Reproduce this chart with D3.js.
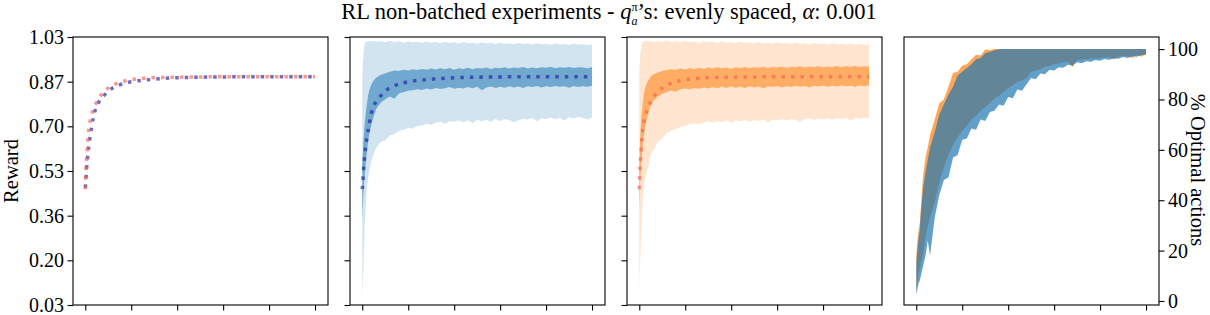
<!DOCTYPE html>
<html>
<head>
<meta charset="utf-8">
<script src="https://cdn.jsdelivr.net/npm/d3@7"></script>
<style>
  body { margin: 0; background: #fff; }
  svg { display: block; }
  text { font-family: "Liberation Serif", "DejaVu Serif", serif; fill: #000; }
</style>
</head>
<body>
<svg id="chart"></svg>
<script>
// episodes for the smooth mean curves
const meanSteps = [0, 30, 60, 100, 150, 200, 275, 350, 465, 600, 800, 1000, 1400, 1800, 2200, 2700, 3200, 4000, 5000, 6000, 8000, 10000];
const blueMean = [0.462, 0.500, 0.542, 0.580, 0.620, 0.652, 0.692, 0.729, 0.766, 0.789, 0.810, 0.828, 0.848, 0.859, 0.866, 0.870, 0.874, 0.878, 0.880, 0.881, 0.882, 0.882];
const orangeMean = [0.462, 0.539, 0.580, 0.635, 0.685, 0.712, 0.742, 0.758, 0.782, 0.803, 0.826, 0.840, 0.858, 0.868, 0.873, 0.877, 0.879, 0.880, 0.881, 0.882, 0.882, 0.882];

// episodes for the noisy bands
const bandSteps = [0, 25, 50, 75, 100, 150, 200, 250, 300, 400,
  500, 600, 800, 1000, 1200, 1400, 1600, 1800, 2000, 2200,
  2400, 2600, 2800, 3000, 3200, 3400, 3600, 3800, 4000, 4200,
  4400, 4600, 4800, 5000, 5200, 5400, 5600, 5800, 6000, 6200,
  6400, 6600, 6800, 7000, 7200, 7400, 7600, 7800, 8000, 8200,
  8400, 8600, 8800, 9000, 9200, 9400, 9600, 9800, 10000];

const blueOuterLo = [0.06, 0.12, 0.16, 0.25, 0.31, 0.40, 0.47, 0.50, 0.53, 0.57,
  0.595, 0.615, 0.638, 0.645, 0.662, 0.668, 0.680, 0.684, 0.690, 0.688,
  0.698, 0.700, 0.706, 0.703, 0.710, 0.714, 0.706, 0.716, 0.713, 0.718,
  0.712, 0.719, 0.708, 0.721, 0.716, 0.722, 0.714, 0.724, 0.717, 0.723,
  0.720, 0.711, 0.719, 0.725, 0.722, 0.728, 0.716, 0.727, 0.724, 0.730,
  0.723, 0.729, 0.718, 0.731, 0.726, 0.732, 0.728, 0.722, 0.730];
const blueOuterHi = [0.88, 0.93, 0.965, 0.99, 1.000, 1.010, 1.014, 1.012, 1.016, 1.013,
  1.017, 1.012, 1.015, 1.011, 1.016, 1.010, 1.014, 1.009, 1.013, 1.010,
  1.012, 1.008, 1.013, 1.009, 1.011, 1.007, 1.012, 1.008, 1.010, 1.006,
  1.011, 1.007, 1.009, 1.005, 1.010, 1.006, 1.008, 1.004, 1.009, 1.005,
  1.007, 1.003, 1.008, 1.004, 1.006, 1.002, 1.007, 1.003, 1.005, 1.001,
  1.006, 1.002, 1.004, 1.000, 1.005, 1.001, 1.003, 0.999, 1.002];
const blueInnerLo = [0.337, 0.40, 0.44, 0.48, 0.51, 0.56, 0.60, 0.64, 0.665, 0.705,
  0.735, 0.76, 0.785, 0.798, 0.808, 0.800, 0.820, 0.824, 0.829, 0.831,
  0.835, 0.832, 0.838, 0.834, 0.840, 0.836, 0.839, 0.843, 0.837, 0.841,
  0.838, 0.843, 0.839, 0.844, 0.831, 0.842, 0.845, 0.840, 0.844, 0.841,
  0.846, 0.842, 0.845, 0.840, 0.846, 0.843, 0.847, 0.842, 0.846, 0.843,
  0.847, 0.844, 0.846, 0.841, 0.847, 0.843, 0.846, 0.844, 0.848];
const blueInnerHi = [0.56, 0.60, 0.64, 0.67, 0.70, 0.745, 0.78, 0.81, 0.83, 0.855,
  0.868, 0.878, 0.888, 0.895, 0.900, 0.905, 0.903, 0.908, 0.905, 0.910,
  0.907, 0.911, 0.908, 0.912, 0.909, 0.913, 0.910, 0.914, 0.908, 0.913,
  0.911, 0.915, 0.910, 0.914, 0.912, 0.916, 0.911, 0.915, 0.913, 0.917,
  0.912, 0.916, 0.914, 0.918, 0.912, 0.916, 0.913, 0.917, 0.915, 0.919,
  0.913, 0.917, 0.915, 0.918, 0.914, 0.917, 0.916, 0.913, 0.917];

const orangeOuterLo = [0.09, 0.16, 0.22, 0.28, 0.33, 0.43, 0.47, 0.50, 0.52, 0.55,
  0.587, 0.605, 0.637, 0.650, 0.672, 0.680, 0.688, 0.694, 0.700, 0.705,
  0.708, 0.705, 0.711, 0.716, 0.710, 0.717, 0.713, 0.719, 0.709, 0.718,
  0.715, 0.721, 0.714, 0.720, 0.717, 0.723, 0.712, 0.722, 0.719, 0.725,
  0.718, 0.724, 0.721, 0.714, 0.723, 0.727, 0.720, 0.726, 0.722, 0.728,
  0.721, 0.727, 0.724, 0.729, 0.718, 0.728, 0.725, 0.730, 0.727];
const orangeOuterHi = [0.90, 0.94, 0.97, 0.99, 1.000, 1.010, 1.015, 1.012, 1.017, 1.013,
  1.016, 1.011, 1.015, 1.012, 1.017, 1.011, 1.014, 1.010, 1.015, 1.011,
  1.013, 1.009, 1.014, 1.010, 1.012, 1.008, 1.013, 1.009, 1.011, 1.007,
  1.012, 1.008, 1.010, 1.006, 1.011, 1.007, 1.009, 1.005, 1.010, 1.006,
  1.008, 1.004, 1.009, 1.005, 1.007, 1.003, 1.008, 1.004, 1.006, 1.002,
  1.007, 1.003, 1.005, 1.001, 1.006, 1.002, 1.004, 1.000, 1.003];
const orangeInnerLo = [0.387, 0.45, 0.50, 0.54, 0.575, 0.625, 0.665, 0.695, 0.715, 0.748,
  0.775, 0.79, 0.808, 0.818, 0.825, 0.830, 0.826, 0.836, 0.838, 0.835,
  0.840, 0.837, 0.842, 0.838, 0.843, 0.839, 0.844, 0.840, 0.845, 0.841,
  0.844, 0.840, 0.846, 0.842, 0.845, 0.838, 0.846, 0.843, 0.847, 0.842,
  0.846, 0.843, 0.848, 0.844, 0.847, 0.842, 0.848, 0.845, 0.849, 0.844,
  0.848, 0.845, 0.849, 0.846, 0.848, 0.844, 0.849, 0.846, 0.850];
const orangeInnerHi = [0.55, 0.62, 0.67, 0.71, 0.74, 0.78, 0.815, 0.838, 0.852, 0.87,
  0.882, 0.89, 0.898, 0.903, 0.907, 0.910, 0.908, 0.912, 0.909, 0.914,
  0.910, 0.915, 0.911, 0.916, 0.912, 0.917, 0.913, 0.916, 0.911, 0.917,
  0.914, 0.918, 0.913, 0.917, 0.915, 0.919, 0.914, 0.918, 0.916, 0.920,
  0.915, 0.919, 0.917, 0.921, 0.916, 0.920, 0.918, 0.921, 0.917, 0.920,
  0.918, 0.922, 0.917, 0.921, 0.919, 0.922, 0.918, 0.921, 0.919];

// % optimal actions bands
const optOrangeLo = [3, 5, 8, 10, 11, 13, 15, 17, 19, 25,
  30, 33, 39, 47, 53, 58, 62, 65, 67.5, 69.5,
  72, 73.5, 75.5, 77, 78.5, 80.5, 81.5, 83, 84.5, 85.5,
  87, 87.5, 88.5, 91, 91.5, 92, 93, 93.3, 94, 94.3,
  94.8, 95.1, 92.8, 95.7, 95.9, 96.1, 96.3, 96.3, 96.5, 96.8,
  96.9, 95.9, 97.1, 97.2, 97.3, 96.5, 97.7, 97.0, 98];
const optOrangeHi = [17, 22, 24, 26, 28, 31, 37, 44, 50, 57,
  61, 66, 72, 78.5, 80, 85, 90.5, 91, 93.5, 94,
  96, 97.8, 97.5, 99.8, 99.5, 100, 100, 100, 100, 100,
  100, 100, 100, 100, 100, 100, 100, 100, 100, 100,
  100, 100, 100, 100, 100, 100, 100, 100, 100, 100,
  100, 100, 100, 100, 100, 100, 100, 100, 100];
const optBlueLo = [3, 3.5, 5, 6, 7, 8, 10, 12, 14, 18,
  24, 18, 33, 42, 48, 49, 57, 58, 64, 64.5,
  68.5, 68, 72, 71.5, 75, 75.5, 78, 77.5, 81, 80.5,
  84, 83.5, 86, 88.5, 88, 90.3, 90, 91.8, 91.5, 92.8,
  92.6, 93.8, 93.5, 94.8, 94.4, 95.2, 95, 95.7, 95.4, 96.1,
  95.8, 96.4, 96.2, 96.9, 96.5, 97.2, 97, 97.7, 97.9];
const optBlueHi = [15, 18, 20, 22, 25, 28, 35, 40, 45, 51,
  56, 61, 67, 74, 78, 82, 85, 89.5, 91, 92.5,
  94, 96, 96.5, 98.3, 98.8, 99.5, 99.9, 100, 100, 100,
  100, 100, 100, 100, 100, 100, 100, 100, 100, 100,
  100, 100, 100, 100, 100, 100, 100, 100, 100, 100,
  100, 100, 100, 100, 100, 100, 100, 100, 100];

const xTicks = [0, 2000, 4000, 6000, 8000, 10000];
const rewardTicks = [0.03, 0.1967, 0.3633, 0.53, 0.6967, 0.8633, 1.03];
const rewardTickLabels = ["0.03", "0.20", "0.36", "0.53", "0.70", "0.87", "1.03"];
const pctTicks = [0, 20, 40, 60, 80, 100];

const W = 1210, H = 315;
const panelLefts = [73, 350, 627, 904];
const panelW = 255, panelTop = 37, panelH = 268;
const fontPx = "20px";

const svg = d3.select("#chart").attr("width", W).attr("height", H);

const x = d3.scaleLinear().domain([-535, 10565]).range([0, panelW]);
const yR = d3.scaleLinear().domain([0.03, 1.03]).range([panelH, 0]);
const yP = d3.scaleLinear().domain([-1.6, 104.8]).range([panelH, 0]);

const blueLine = "#1e1ea3", pinkLine = "#f76150";
const tabBlue = "#1f77b4", tabOrange = "#ff7f0e";

function band(steps, lo, hi, y){
    const rows = steps.map((s, i) => ({s: s, lo: lo[i], hi: hi[i]}));
    return d3.area()
        .x(d => x(d.s))
        .y0(d => y(d.lo))
        .y1(d => y(d.hi))(rows);
}

function meanPath(vals){
    const rows = meanSteps.map((s, i) => ({s: s, v: vals[i]}));
    return d3.line()
        .x(d => x(d.s))
        .y(d => yR(d.v))
        .curve(d3.curveMonotoneX)(rows);
}

const panels = panelLefts.map((left, i) => {
    const g = svg.append("g").attr("transform", `translate(${left},${panelTop})`);
    g.append("clipPath").attr("id", "clip" + i)
      .append("rect").attr("width", panelW).attr("height", panelH);
    const plot = g.append("g").attr("clip-path", `url(#clip${i})`);
    return {g: g, plot: plot};
});

function dotted(plot, vals, color){
    return plot.append("path")
        .attr("d", meanPath(vals))
        .attr("fill", "none")
        .attr("stroke", color)
        .attr("stroke-opacity", 0.65)
        .attr("stroke-width", 3.5)
        .attr("stroke-dasharray", "3.5,6");
}

// panel 1: both means
const p1b = dotted(panels[0].plot, blueMean, blueLine);
const p1p = dotted(panels[0].plot, orangeMean, pinkLine);
// shift the blue dots half a period so the two lines interleave on the plateau
(function(){
    const cut = meanSteps.indexOf(6000) + 1;
    const tmp = panels[0].plot.append("path");
    tmp.attr("d", d3.line().x(d => x(d[0])).y(d => yR(d[1])).curve(d3.curveMonotoneX)(meanSteps.slice(0, cut).map((s, i) => [s, blueMean[i]])));
    const lb = tmp.node().getTotalLength();
    tmp.attr("d", d3.line().x(d => x(d[0])).y(d => yR(d[1])).curve(d3.curveMonotoneX)(meanSteps.slice(0, cut).map((s, i) => [s, orangeMean[i]])));
    const lp = tmp.node().getTotalLength();
    tmp.remove();
    const period = 9.5;
    p1b.attr("stroke-dashoffset", ((lp - lb + period / 2) % period + period) % period);
})();

// panel 2: blue bands
panels[1].plot.append("path").attr("d", band(bandSteps, blueOuterLo, blueOuterHi, yR))
    .attr("fill", tabBlue).attr("fill-opacity", 0.2);
panels[1].plot.append("path").attr("d", band(bandSteps, blueInnerLo, blueInnerHi, yR))
    .attr("fill", tabBlue).attr("fill-opacity", 0.55);
dotted(panels[1].plot, blueMean, blueLine);

// panel 3: orange bands
panels[2].plot.append("path").attr("d", band(bandSteps, orangeOuterLo, orangeOuterHi, yR))
    .attr("fill", tabOrange).attr("fill-opacity", 0.2);
panels[2].plot.append("path").attr("d", band(bandSteps, orangeInnerLo, orangeInnerHi, yR))
    .attr("fill", tabOrange).attr("fill-opacity", 0.55);
dotted(panels[2].plot, orangeMean, pinkLine);

// panel 4: optimal action bands
panels[3].plot.append("path").attr("d", band(bandSteps, optOrangeLo, optOrangeHi, yP))
    .attr("fill", tabOrange).attr("fill-opacity", 0.7);
panels[3].plot.append("path").attr("d", band(bandSteps, optBlueLo, optBlueHi, yP))
    .attr("fill", tabBlue).attr("fill-opacity", 0.7);

// axes + frames
panels.forEach((p, i) => {
    p.g.append("g")
        .attr("transform", `translate(0,${panelH})`)
        .call(d3.axisBottom(x).tickValues(xTicks).tickFormat("").tickSize(5.5));
    if (i < 3) {
        p.g.append("g")
            .call(d3.axisLeft(yR).tickValues(rewardTicks)
                .tickFormat((d, k) => i === 0 ? rewardTickLabels[k] : "")
                .tickSize(5.5).tickPadding(3.5));
    } else {
        p.g.append("g")
            .attr("transform", `translate(${panelW},0)`)
            .call(d3.axisRight(yP).tickValues(pctTicks).tickSize(5.5).tickPadding(3.5));
    }
    p.g.append("rect")
        .attr("width", panelW).attr("height", panelH)
        .attr("fill", "none").attr("stroke", "#000").attr("stroke-width", 1.1);
});

svg.selectAll(".domain").remove();
svg.selectAll(".tick line").attr("stroke", "#000").attr("stroke-width", 1.1);
svg.selectAll(".tick text")
    .style("font-family", '"Liberation Serif", serif')
    .style("font-size", fontPx);

// y labels
svg.append("text")
    .attr("transform", `translate(18,${panelTop + panelH / 2}) rotate(-90)`)
    .attr("text-anchor", "middle")
    .style("font-size", "20.5px")
    .text("Reward");
svg.append("text")
    .attr("transform", `translate(1191,${panelTop + panelH / 2 - 1}) rotate(90)`)
    .attr("text-anchor", "middle")
    .style("font-size", "20.5px")
    .text("% Optimal actions");

// title with q_a^pi
const title = svg.append("text")
    .attr("x", 609).attr("y", 19)
    .attr("text-anchor", "middle")
    .style("font-size", "22.5px");
const probe = svg.append("text").style("font-size", "12px").text("π");
const piW = probe.node().getComputedTextLength();
probe.style("font-style", "italic").text("a");
const aW = probe.node().getComputedTextLength();
probe.remove();
title.append("tspan").text("RL non-batched experiments - ");
title.append("tspan").style("font-style", "italic").text("q");
title.append("tspan").style("font-size", "12px").attr("dy", -8).text("π");
title.append("tspan").style("font-size", "12px").style("font-style", "italic")
    .attr("dx", -piW).attr("dy", 14).text("a");
title.append("tspan").attr("dx", Math.max(0, piW - aW)).attr("dy", -6).text("’s: evenly spaced, ");
title.append("tspan").style("font-style", "italic").text("α");
title.append("tspan").text(": 0.001");
</script>
</body>
</html>
